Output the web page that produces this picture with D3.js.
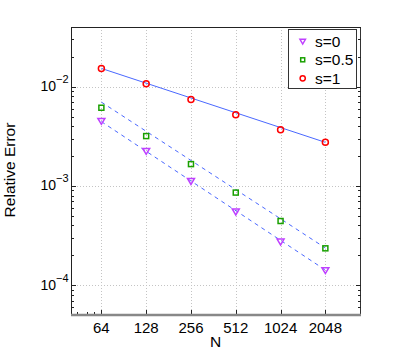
<!DOCTYPE html>
<html>
<head>
<meta charset="utf-8">
<script src="https://cdn.jsdelivr.net/npm/d3@7"></script>
<style>
  body { margin: 0; background: #fff; }
  svg { display: block; font-family: "Liberation Sans", Arial, sans-serif; }
</style>
</head>
<body>
<svg id="chart"></svg>
<script>
// data
var nValues = [64, 128, 256, 512, 1024, 2048];
var errS0 = [0.00447, 0.00223, 0.00111, 0.000547, 0.000272, 0.00014];
var errS05 = [0.00614, 0.00318, 0.00166, 0.000857, 0.000443, 0.000235];
var errS1 = [0.01529, 0.01072, 0.00745, 0.00522, 0.00369, 0.00275];

// fitted lines (end points)
var fitN = [64, 2048];
var fitS0 = [0.00445, 0.000142];
var fitS05 = [0.0070, 0.000237];
var fitS1 = [0.0153, 0.00275];

var labels = ["s=0", "s=0.5", "s=1"];
var xTicks = [64, 128, 256, 512, 1024, 2048];
var xMinorTicks = [44, 51, 57];
var yTicks = [1e-2, 1e-3, 1e-4];
var yTickExp = ["\u22122", "\u22123", "\u22124"];

var width = 414;
var height = 354;
var plotLeft = 71, plotRight = 360, plotTop = 27, plotBottom = 315;

var svg = d3.select("#chart").attr("width", width).attr("height", height);

var x = d3.scaleLog().base(2).domain([40, 3500]).range([plotLeft, plotRight]);
var y = d3.scaleLog().domain([5e-5, 0.04]).range([plotBottom, plotTop]);

var yMinor = [];
[1e-5, 1e-4, 1e-3, 1e-2].forEach(function (d) {
  for (var k = 2; k <= 9; k++) {
    var v = d * k;
    if (v > 5e-5 && v < 0.04) yMinor.push(v);
  }
});

// grid
var grid = svg.append("g").attr("stroke", "#c4c4c4").attr("stroke-width", 1)
  .attr("stroke-dasharray", "1,2");
grid.selectAll(".gx").data(xTicks).enter().append("line")
  .attr("x1", (d) => Math.round(x(d)) + 0.5).attr("x2", (d) => Math.round(x(d)) + 0.5)
  .attr("y1", plotTop).attr("y2", plotBottom);
grid.selectAll(".gy").data(yTicks).enter().append("line")
  .attr("y1", (d) => Math.round(y(d)) + 0.5).attr("y2", (d) => Math.round(y(d)) + 0.5)
  .attr("x1", plotLeft).attr("x2", plotRight);

// fit lines
var fits = [
  { vals: fitS0, dash: "4,4" },
  { vals: fitS05, dash: "4,4" },
  { vals: fitS1, dash: null }
];
var line = d3.line().x((d) => x(d[0])).y((d) => y(d[1]));
svg.append("g").selectAll("path").data(fits).enter().append("path")
  .attr("d", (f) => line(fitN.map((n, i) => [n, f.vals[i]])))
  .attr("fill", "none")
  .attr("stroke", "#4a68ff")
  .attr("stroke-width", 1)
  .attr("stroke-dasharray", (f) => f.dash);

// markers
function triangle(g, cx, cy, w) {
  var h = w * 0.85;
  g.append("path")
    .attr("d", "M" + (cx - w / 2) + "," + (cy - h / 2) + "L" + (cx + w / 2) + "," + (cy - h / 2) +
      "L" + cx + "," + (cy + h / 2) + "Z")
    .attr("fill", "none").attr("stroke", "#bf40ff").attr("stroke-width", 1.5);
}
function square(g, cx, cy, s) {
  g.append("rect").attr("x", cx - s / 2).attr("y", cy - s / 2)
    .attr("width", s).attr("height", s)
    .attr("fill", "none").attr("stroke", "#19a000").attr("stroke-width", 1.5);
}
function circle(g, cx, cy, r) {
  g.append("circle").attr("cx", cx).attr("cy", cy).attr("r", r)
    .attr("fill", "none").attr("stroke", "#ff0000").attr("stroke-width", 1.5);
}

var marks = svg.append("g");
nValues.forEach(function (n, i) {
  triangle(marks, x(n), y(errS0[i]), 7);
  square(marks, x(n), y(errS05[i]), 5);
  circle(marks, x(n), y(errS1[i]), 3);
});

// axes box
var axes = svg.append("g");
axes.append("line").attr("x1", plotLeft + 0.5).attr("x2", plotLeft + 0.5)
  .attr("y1", plotTop).attr("y2", plotBottom).attr("stroke", "#222");
axes.append("line").attr("x1", plotRight + 0.5).attr("x2", plotRight + 0.5)
  .attr("y1", plotTop).attr("y2", plotBottom).attr("stroke", "#333");
axes.append("line").attr("x1", plotLeft).attr("x2", plotRight + 1)
  .attr("y1", plotTop + 0.5).attr("y2", plotTop + 0.5).attr("stroke", "#222");

// ticks
var tk = axes.append("g").attr("stroke", "#222").attr("stroke-width", 1);
yTicks.forEach(function (d) {
  var py = Math.round(y(d)) + 0.5;
  tk.append("line").attr("x1", plotLeft).attr("x2", plotLeft + 5).attr("y1", py).attr("y2", py);
  tk.append("line").attr("x1", plotRight + 1).attr("x2", plotRight - 4).attr("y1", py).attr("y2", py);
});
yMinor.forEach(function (d) {
  var py = Math.round(y(d)) + 0.5;
  tk.append("line").attr("x1", plotLeft).attr("x2", plotLeft + 3).attr("y1", py).attr("y2", py);
  tk.append("line").attr("x1", plotRight + 1).attr("x2", plotRight - 2).attr("y1", py).attr("y2", py);
});
xTicks.forEach(function (d) {
  var px = Math.round(x(d)) + 0.5;
  tk.append("line").attr("x1", px).attr("x2", px).attr("y1", plotBottom).attr("y2", plotBottom - 5);
});
xMinorTicks.forEach(function (d) {
  var px = Math.round(x(d)) + 0.5;
  tk.append("line").attr("x1", px).attr("x2", px).attr("y1", plotBottom).attr("y2", plotBottom - 3);
});

axes.append("line").attr("x1", plotLeft).attr("x2", plotRight + 1)
  .attr("y1", plotBottom).attr("y2", plotBottom)
  .attr("stroke", "#888").attr("stroke-width", 2.5);

// tick labels
svg.append("g").selectAll("text").data(xTicks).enter().append("text")
  .attr("x", (d) => x(d)).attr("y", 332.5)
  .attr("text-anchor", "middle").attr("font-size", 15).attr("fill", "#000")
  .text((d) => d);

var yl = svg.append("g").selectAll("text").data(yTicks).enter().append("text")
  .attr("x", 68.5).attr("y", (d) => y(d) + 4.5)
  .attr("text-anchor", "end").attr("font-size", 14).attr("fill", "#000");
yl.append("tspan").text("10");
yl.append("tspan").attr("dy", -8).attr("font-size", 11).text((d, i) => yTickExp[i]);

// axis titles
svg.append("text").attr("x", 215.5).attr("y", 346.5).attr("text-anchor", "middle")
  .attr("font-size", 15.5).text("N");
svg.append("text").attr("transform", "translate(15," + 170 + ") rotate(-90)")
  .attr("text-anchor", "middle").attr("font-size", 15.5).text("Relative Error");

// legend
var legend = svg.append("g");
legend.append("rect").attr("x", 288.5).attr("y", 29.5).attr("width", 68).attr("height", 59)
  .attr("fill", "#fff").attr("stroke", "#333").attr("stroke-width", 1);
var legY = [41.7, 59.8, 78.3];
triangle(legend, 302.7, legY[0], 5.5);
square(legend, 302.7, legY[1], 4);
circle(legend, 302.7, legY[2], 2.6);
legend.selectAll("text").data(labels).enter().append("text")
  .attr("x", 315).attr("y", (d, i) => legY[i] + 5.3)
  .attr("font-size", 15.5).attr("fill", "#000")
  .text((d) => d);
</script>
</body>
</html>
